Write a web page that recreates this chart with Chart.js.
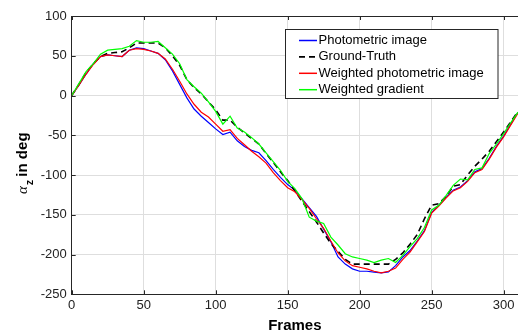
<!DOCTYPE html>
<html>
<head>
<meta charset="utf-8">
<script src="https://cdn.jsdelivr.net/npm/chart.js@4.4.1/dist/chart.umd.min.js"></script>
<style>
  html, body { margin: 0; padding: 0; background: #fff; }
  canvas { display: block; }
</style>
</head>
<body>
<canvas id="chart" width="518" height="335"></canvas>
<script>
// frame numbers (x) shared by all series
var frames = [0,5,10,15,20,25,30,35,40,45,
  50,55,60,65,70,75,80,85,90,95,
  100,105,110,115,120,125,130,135,140,145,
  150,155,160,165,170,175,180,185,190,195,
  200,205,210,215,220,225,230,235,240,245,
  250,255,260,265,270,275,280,285,290,295,
  300,305,310];

var photometric = [0,13,27,40,49,51,50,49,57,60,
  59,56,53,45,31,14,-3,-17,-26,-34,
  -42,-49,-46,-57,-64,-69,-72,-82,-93,-103,
  -112,-119,-130,-141,-152,-168,-184,-203,-212,-218,
  -221,-221,-222,-223,-222,-214,-203,-195,-183,-170,
  -147,-138,-128,-119,-115,-107,-96,-92,-79,-64,
  -51,-36,-21];

var groundTruth = [0,14,29,40,49,53,54,55,60,66,
  66,66,66,60,50,38,20,10,2,-8,
  -18,-31,-31,-40,-47,-54,-61,-73,-84,-96,
  -107,-120,-133,-146,-159,-173,-186,-196,-206,-212,
  -212,-212,-212,-212,-212,-206,-198,-187,-175,-155,
  -138,-136,-127,-114,-112,-100,-89,-80,-70,-58,
  -46,-33,-20];

var weightedPhotometric = [0,13,27,39,49,51,50,49,57,59,
  58,56,53,46,33,18,2,-11,-21,-27,
  -36,-45,-43,-54,-62,-70,-77,-85,-97,-107,
  -116,-121,-131,-142,-155,-167,-183,-198,-208,-214,
  -216,-218,-221,-223,-221,-217,-206,-197,-184,-171,
  -148,-139,-129,-120,-116,-108,-97,-93,-80,-65,
  -52,-37,-22];

var weightedGradient = [0,15,30,40,52,57,58,59,62,69,
  67,67,68,60,52,40,20,11,3,-8,
  -20,-36,-26,-41,-46,-53,-61,-72,-83,-94,
  -108,-117,-130,-153,-158,-161,-178,-188,-199,-203,
  -205,-207,-210,-207,-205,-210,-201,-190,-180,-166,
  -144,-138,-126,-113,-105,-106,-93,-91,-73,-61,
  -48,-34,-21];

var seriesLabels = ['Photometric image', 'Ground-Truth', 'Weighted photometric image', 'Weighted gradient'];
var seriesColors = ['#0000ff', '#000000', '#ff0000', '#00ff00'];
var seriesDashes = [[], [6, 4], [], []];
var xTicks = [0, 50, 100, 150, 200, 250, 300];
var yTicks = [100, 50, 0, -50, -100, -150, -200, -250];

function toPoints(values) {
  return frames.map(function(f, i) { return { x: f, y: values[i] }; });
}

var allSeries = [photometric, groundTruth, weightedPhotometric, weightedGradient];
var datasets = allSeries.map(function(values, i) {
  return {
    label: seriesLabels[i],
    data: toPoints(values),
    borderColor: seriesColors[i],
    backgroundColor: seriesColors[i],
    borderWidth: i === 1 ? 1.6 : 1.2,
    borderDash: seriesDashes[i],
    showLine: true,
    pointRadius: 0,
    tension: 0,
    order: 4 - i
  };
});

// box, inward ticks, legend and y title (MATLAB look)
var extrasPlugin = {
  id: 'extras',
  afterDraw: function(chart) {
    var ctx = chart.ctx, a = chart.chartArea;
    var xs = chart.scales.x, ys = chart.scales.y;
    ctx.save();
    ctx.strokeStyle = '#262626';
    ctx.lineWidth = 1;
    ctx.beginPath();
    ctx.moveTo(a.left, a.top + 0.5);
    ctx.lineTo(a.right, a.top + 0.5);
    xTicks.forEach(function(v) {
      var px = Math.round(xs.getPixelForValue(v)) + 0.5;
      ctx.moveTo(px, a.bottom); ctx.lineTo(px, a.bottom - 4);
      ctx.moveTo(px, a.top); ctx.lineTo(px, a.top + 4);
    });
    yTicks.forEach(function(v) {
      var py = Math.round(ys.getPixelForValue(v)) + 0.5;
      ctx.moveTo(a.left, py); ctx.lineTo(a.left + 4, py);
    });
    ctx.stroke();

    // legend
    var bx = 285.5, by = 29.5, bw = 212.5, bh = 69;
    ctx.fillStyle = '#ffffff';
    ctx.fillRect(bx, by, bw, bh);
    ctx.strokeStyle = '#262626';
    ctx.strokeRect(bx, by, bw, bh);
    ctx.font = '13px "Liberation Sans", Arial, sans-serif';
    ctx.textBaseline = 'middle';
    ctx.textAlign = 'left';
    seriesLabels.forEach(function(lbl, i) {
      var ry = 40.5 + i * 16.4;
      ctx.beginPath();
      ctx.strokeStyle = seriesColors[i];
      ctx.lineWidth = i === 1 ? 1.8 : 1.5;
      ctx.setLineDash(seriesDashes[i]);
      ctx.moveTo(299, ry);
      ctx.lineTo(317, ry);
      ctx.stroke();
      ctx.setLineDash([]);
      ctx.fillStyle = '#000';
      ctx.fillText(lbl, 318.5, ry);
    });

    // y title: alpha_z in deg
    ctx.translate(26.5, 194);
    ctx.rotate(-Math.PI / 2);
    ctx.textBaseline = 'alphabetic';
    ctx.fillStyle = '#000';
    ctx.font = 'italic 15px "Liberation Serif", serif';
    ctx.fillText('α', 0, 0);
    var w = ctx.measureText('α').width + 1;
    ctx.font = 'bold 11px "Liberation Sans", Arial, sans-serif';
    ctx.fillText('z', w, 6);
    w += ctx.measureText('z').width + 3;
    ctx.font = 'bold 15px "Liberation Sans", Arial, sans-serif';
    ctx.fillText('in deg', w, 0);
    ctx.restore();
  }
};

var ctx = document.getElementById('chart').getContext('2d');
var chart = new Chart(ctx, {
  type: 'scatter',
  data: { datasets: datasets },
  options: {
    responsive: false,
    animation: false,
    devicePixelRatio: 1,
    layout: { padding: { top: 16, right: 0, bottom: 0, left: 0 } },
    plugins: {
      legend: { display: false },
      tooltip: { enabled: false }
    },
    scales: {
      x: {
        type: 'linear',
        min: 0,
        max: 310,
        afterBuildTicks: function(scale) {
          scale.ticks = xTicks.map(function(v) { return { value: v }; });
        },
        afterFit: function(scale) { scale.height = 40.7; },
        grid: { color: '#dedede', drawTicks: false },
        border: { display: true, color: '#262626', width: 1 },
        ticks: {
          padding: 3,
          color: '#222',
          font: { family: '"Liberation Sans", Arial, sans-serif', size: 13 }
        },
        title: {
          display: true,
          text: 'Frames',
          color: '#000',
          padding: 0,
          font: { family: '"Liberation Sans", Arial, sans-serif', size: 15, weight: 'bold' }
        }
      },
      y: {
        type: 'linear',
        min: -250,
        max: 100,
        afterBuildTicks: function(scale) {
          scale.ticks = yTicks.map(function(v) { return { value: v }; });
        },
        afterFit: function(scale) { scale.width = 71.7; },
        grid: { color: '#dedede', drawTicks: false },
        border: { display: true, color: '#262626', width: 1 },
        ticks: {
          padding: 5,
          color: '#222',
          font: { family: '"Liberation Sans", Arial, sans-serif', size: 13 }
        }
      }
    }
  },
  plugins: [extrasPlugin]
});
</script>
</body>
</html>
